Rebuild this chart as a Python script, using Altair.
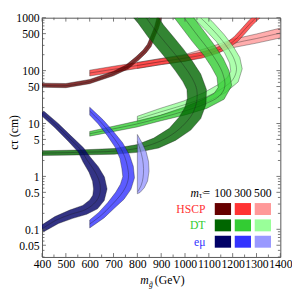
import altair as alt
import pandas as pd

# ---------------- data: gluino mass (GeV) vs c*tau (cm) ----------------
# each band: edge A, edge B and centre line C
HSCP100_A = [(400,58),(500,57),(600,68),(700,97),(752,127),(794,182),(824,245),(842,314),(857,454),(872,668),(882,1000)]
HSCP100_B = [(400,48.4),(500,47.5),(600,56.6),(700,80),(762,108),(806,158),(837,216),(858,286),(873,425),(889,630),(902,1000)]
HSCP100_C = [(400,53),(500,52),(600,62),(700,88),(760,120),(800,170),(830,230),(850,300),(865,440),(880,650),(892,1000)]

HSCP300_A = [(600,102),(700,121),(800,142),(900,168),(1000,196),(1070,224),(1131,270),(1172,331),(1206,436),(1236,610),(1266,865),(1280,1000)]
HSCP300_B = [(600,79),(700,93),(800,110),(900,130),(1000,151),(1070,172),(1139,213),(1187,272),(1224,366),(1254,514),(1283,725),(1315,1000)]
HSCP300_C = [(600,90),(700,106),(800,125),(900,148),(1000,172),(1070,196),(1135,240),(1180,300),(1215,400),(1245,560),(1275,790),(1298,1000)]

HSCP500_A = [(800,143),(900,170),(1000,202),(1100,274),(1200,390),(1300,493),(1400,637)]
HSCP500_B = [(800,110),(900,130),(1000,150),(1100,197),(1200,271),(1300,331),(1400,415)]
HSCP500_C = [(800,125),(900,148),(1000,174),(1100,232),(1200,325),(1300,404),(1400,514)]

DT100_A = [(400,3.05),(551,3.15),(702,3.37),(800,4.0),(869,5.3),(934,8.1),(976,13.3),(1000,20.4),(1010,30),(1008,44),(991,62),(962,96),(927,155),(887,256),(846,427),(805,773),(784,1000)]
DT100_B = [(400,2.48),(551,2.55),(702,2.62),(800,2.85),(890,3.45),(960,4.8),(1024,7.5),(1066,12.4),(1088,23),(1090,44),(1066,86),(1030,153),(991,263),(950,441),(909,735),(890,1000)]
DT100_C = [(400,2.75),(551,2.85),(702,3.0),(800,3.4),(878,4.3),(947,6.25),(1000,10),(1033,15.8),(1049,26.4),(1049,44),(1029,73),(996,122),(959,202),(918,336),(878,560),(837,1000)]

DT300_A = [(600,7.06),(793,11.0),(896,14.3),(995,20.3),(1072,28),(1122,37),(1139,47.8),(1134,75.5),(1109,121),(1078,197),(1031,354),(955,1000)]
DT300_B = [(600,5.77),(799,8.6),(900,11.3),(1005,14.7),(1091,19.3),(1164,28.7),(1196,52),(1185,99),(1160,171),(1126,292),(1083,532),(1037,1000)]
DT300_C = [(600,6.4),(698,7.9),(796,9.75),(898,12.8),(1000,17.3),(1082,23.3),(1143,32.7),(1167,49.9),(1159,86.5),(1135,144),(1102,239),(1057,434),(996,1000)]

DT500_A = [(800,13.7),(894,19.2),(995,26.7),(1080,38.5),(1141,55),(1177,73.6),(1192,97.5),(1187,139),(1166,217),(1131,356),(1082,611),(1033,1000)]
DT500_B = [(800,10.6),(902,14.4),(1005,19.4),(1099,26.5),(1169,38.2),(1223,61),(1240,108),(1230,177),(1202,288),(1163,487),(1114,851),(1097,1000)]
DT500_C = [(800,12.1),(898,16.6),(1000,22.8),(1090,32),(1155,45.8),(1200,67),(1216,103),(1208,157),(1184,250),(1147,416),(1098,721),(1065,1000)]

EM100_A = [(393,14.7),(453,8.4),(510,4.62),(552,2.88),(572,1.87),(597,1.2),(612,0.81),(616,0.58),(613,0.44),(600,0.357),(571,0.283),(516,0.231),(454,0.174),(393,0.116)]
EM100_B = [(407,17.2),(469,9.95),(527,5.53),(574,3.48),(603,2.3),(636,1.53),(662,0.97),(673,0.58),(661,0.35),(633,0.244),(588,0.193),(529,0.161),(469,0.129),(407,0.09)]
EM100_C = [(400,15.9),(461,9.1),(518,5.06),(563,3.17),(588,2.07),(616,1.36),(637,0.89),(645,0.58),(637,0.40),(616,0.30),(580,0.233),(522,0.193),(461,0.150),(400,0.102)]

EM300_A = [(600,14.5),(635,9.9),(674,5.9),(707,3.54),(727,2.17),(735,1.41),(739,0.99),(729,0.71),(709,0.50),(676,0.32),(638,0.209),(600,0.15)]
EM300_B = [(600,20.3),(655,11.9),(698,7.2),(738,4.34),(767,2.55),(783,1.55),(788,0.94),(773,0.57),(744,0.37),(703,0.25),(660,0.164),(600,0.106)]
EM300_C = [(600,17.2),(645,10.8),(686,6.5),(722,3.92),(747,2.36),(759,1.48),(763,0.97),(751,0.63),(727,0.43),(690,0.282),(649,0.185),(600,0.126)]

EM500_A = [(800,6.2),(800,0.47)]
EM500_B = [(800,6.2),(820,4.27),(837,2.91),(847,1.91),(849,1.25),(843,0.82),(829,0.61),(812,0.5),(800,0.47)]
EM500_C = [(800,4.6),(812,3.2),(822,2.1),(826,1.4),(824,0.95),(816,0.68),(802,0.52)]

BAND_COLORS = {"HSCP100": "#660000", "HSCP300": "#ff3333", "HSCP500": "#ff9999",
               "DT100": "#006600", "DT300": "#33cc33", "DT500": "#99ff99",
               "EM100": "#000066", "EM300": "#3333ff", "EM500": "#9999ff"}

BANDS = [
    ("HSCP500", HSCP500_A, HSCP500_B, HSCP500_C),
    ("HSCP300", HSCP300_A, HSCP300_B, HSCP300_C),
    ("HSCP100", HSCP100_A, HSCP100_B, HSCP100_C),
    ("DT500", DT500_A, DT500_B, DT500_C),
    ("DT300", DT300_A, DT300_B, DT300_C),
    ("DT100", DT100_A, DT100_B, DT100_C),
    ("EM500", EM500_A, EM500_B, EM500_C),
    ("EM300", EM300_A, EM300_B, EM300_C),
    ("EM100", EM100_A, EM100_B, EM100_C),
]

X_DOMAIN = [400, 1400]
Y_DOMAIN = [0.03, 1000]
X_LABELS = list(range(400, 1401, 100))
X_MINOR = list(range(450, 1400, 100))
Y_LABELS = [0.05, 0.1, 0.5, 1, 5, 10, 50, 100, 500, 1000]
Y_MINOR = [0.03, 0.04, 0.06, 0.07, 0.08, 0.09, 0.2, 0.3, 0.4, 0.6, 0.7, 0.8, 0.9,
           2, 3, 4, 6, 7, 8, 9, 20, 30, 40, 60, 70, 80, 90, 200, 300, 400, 600, 700, 800, 900]

LEG_ROWS = ["title", "HSCP", "DT", "eμ"]
LEG_MASSES = [100, 300, 500]
LEG_ROW_COLORS = ["#ff3333", "#33cc33", "#3333ff"]
LEG_KEYS = [["HSCP100", "HSCP300", "HSCP500"], ["DT100", "DT300", "DT500"], ["EM100", "EM300", "EM500"]]

X_TITLE = ["m", "g\u0303", "(GeV)"]
Y_TITLE = "cτ (cm)"
LEG_TITLE = ["m", "τ\u0303", "="]

# ---------------- chart ----------------
W, H = 245, 246
FONT = "Liberation Serif, Times New Roman, Times, serif"
EDGE = "#1a1a1a"
FRAME = "#555555"

XS = alt.Scale(domain=X_DOMAIN, nice=False, zero=False)
YS = alt.Scale(type="log", domain=Y_DOMAIN, nice=False)
XAX = alt.Axis(values=X_LABELS, format="d", ticks=False, domain=False, grid=False,
               labelFont=FONT, labelFontSize=12, labelColor="black", labelPadding=2,
               labelOverlap=False, labelFlush=False, title=None)
YAX = alt.Axis(values=Y_LABELS, format="~g", ticks=False, domain=False, grid=False,
               labelFont=FONT, labelFontSize=12, labelColor="black", labelPadding=3,
               labelOverlap=False, labelFlush=False, title=None)


def X():
    return alt.X("m:Q", scale=XS, axis=XAX)


def Y():
    return alt.Y("ct:Q", scale=YS, axis=YAX)


def pts_df(pts):
    return pd.DataFrame({"m": [p[0] for p in pts], "ct": [p[1] for p in pts],
                         "i": list(range(len(pts)))})


plot_layers = []
for name, a, b, c in BANDS:
    col = BAND_COLORS[name]
    poly = list(a) + list(reversed(b))
    plot_layers.append(
        alt.Chart(pts_df(poly)).mark_line(
            fill=col, fillOpacity=0.8, stroke=EDGE, strokeOpacity=0.6, strokeWidth=0.6,
            interpolate="linear-closed", clip=True
        ).encode(x=X(), y=Y(), order="i:Q")
    )
    plot_layers.append(
        alt.Chart(pts_df(c)).mark_line(
            stroke=EDGE, strokeOpacity=0.6, strokeWidth=0.6, interpolate="catmull-rom", clip=True
        ).encode(x=X(), y=Y(), order="i:Q")
    )

xmaj = pd.DataFrame({"m": X_LABELS})
xmin = pd.DataFrame({"m": X_MINOR})
ymaj = pd.DataFrame({"ct": Y_LABELS})
ymin = pd.DataFrame({"ct": Y_MINOR})
for df, ln in ((xmaj, 4), (xmin, 2.5)):
    plot_layers.append(alt.Chart(df).mark_rule(color=FRAME, strokeWidth=0.8).encode(
        x=X(), y=alt.value(H), y2=alt.value(H - ln)))
    plot_layers.append(alt.Chart(df).mark_rule(color=FRAME, strokeWidth=0.8).encode(
        x=X(), y=alt.value(0), y2=alt.value(ln)))
for df, ln in ((ymaj, 4), (ymin, 2.5)):
    plot_layers.append(alt.Chart(df).mark_rule(color=FRAME, strokeWidth=0.8).encode(
        y=Y(), x=alt.value(0), x2=alt.value(ln)))
    plot_layers.append(alt.Chart(df).mark_rule(color=FRAME, strokeWidth=0.8).encode(
        y=Y(), x=alt.value(W), x2=alt.value(W - ln)))

# legend (own band scales)
LX = alt.Scale(type="band", domain=LEG_MASSES, range=[177.6, 235.4], paddingInner=0.185, paddingOuter=0)
LY = alt.Scale(type="band", domain=LEG_ROWS, range=[173.75, 236.45], paddingInner=0.27, paddingOuter=0)

cells = pd.DataFrame([
    {"row": LEG_ROWS[r + 1], "mass": LEG_MASSES[k], "col": BAND_COLORS[LEG_KEYS[r][k]]}
    for r in range(3) for k in range(3)
])
nums = pd.DataFrame({"row": ["title"] * 3, "mass": LEG_MASSES, "t": [str(v) for v in LEG_MASSES]})
rowlab = pd.DataFrame({"row": LEG_ROWS[1:], "t": LEG_ROWS[1:], "col": LEG_ROW_COLORS})
one = pd.DataFrame({"row": ["title"]})

legend_layers = [
    alt.Chart(cells).mark_rect().encode(
        x=alt.X("mass:O", scale=LX, axis=None), y=alt.Y("row:N", scale=LY, axis=None),
        color=alt.Color("col:N", scale=None)),
    alt.Chart(nums).mark_text(font=FONT, fontSize=12, color="black").encode(
        x=alt.X("mass:O", scale=LX, axis=None), y=alt.Y("row:N", scale=LY, axis=None), text="t:N"),
    alt.Chart(rowlab).mark_text(font=FONT, fontSize=12, align="right").encode(
        x=alt.value(168), y=alt.Y("row:N", scale=LY, axis=None), text="t:N",
        color=alt.Color("col:N", scale=None)),
    alt.Chart(one).mark_text(font=FONT, fontSize=12, fontStyle="italic", color="black", text=LEG_TITLE[0]).encode(
        x=alt.value(157), y=alt.Y("row:N", scale=LY, axis=None)),
    alt.Chart(one).mark_text(font=FONT, fontSize=8, color="black", dy=3, text=LEG_TITLE[1]).encode(
        x=alt.value(163), y=alt.Y("row:N", scale=LY, axis=None)),
    alt.Chart(one).mark_text(font=FONT, fontSize=12, color="black", text=LEG_TITLE[2]).encode(
        x=alt.value(169.5), y=alt.Y("row:N", scale=LY, axis=None)),
    # axis titles
    alt.Chart(one).mark_text(font=FONT, fontSize=12, fontStyle="italic", color="black", align="left",
                             baseline="alphabetic", text=X_TITLE[0]).encode(x=alt.value(101), y=alt.value(274)),
    alt.Chart(one).mark_text(font=FONT, fontSize=8, fontStyle="italic", color="black", align="left",
                             baseline="alphabetic", text=X_TITLE[1]).encode(x=alt.value(110), y=alt.value(277)),
    alt.Chart(one).mark_text(font=FONT, fontSize=12, color="black", align="left",
                             baseline="alphabetic", text=X_TITLE[2]).encode(x=alt.value(116), y=alt.value(274)),
    alt.Chart(one).mark_text(font=FONT, fontSize=12, color="black", angle=270, align="center",
                             baseline="middle", text=Y_TITLE).encode(x=alt.value(-29), y=alt.value(118)),
]

chart = alt.layer(
    alt.layer(*plot_layers), alt.layer(*legend_layers)
).resolve_scale(x="independent", y="independent").properties(
    width=W, height=H,
    padding={"left": 35, "top": 6, "right": 12, "bottom": 31},
    autosize=alt.AutoSizeParams(type="none"),
).configure_view(stroke=FRAME, strokeWidth=1)

chart.save("out.html", embed_options={"renderer": "svg", "actions": False})
